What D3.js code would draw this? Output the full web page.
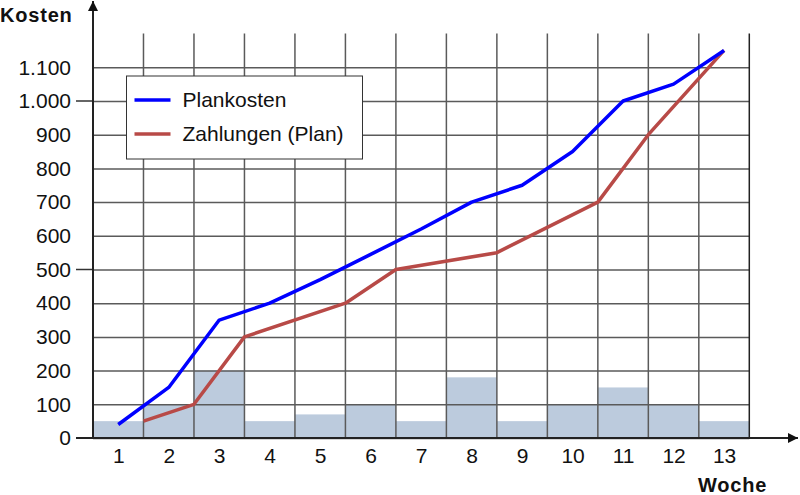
<!DOCTYPE html>
<html>
<head>
<meta charset="utf-8">
<script src="https://cdn.jsdelivr.net/npm/d3@7"></script>
<style>
  body { margin: 0; background: #fff; }
  text { font-family: "Liberation Sans", Arial, sans-serif; }
</style>
</head>
<body>
<script>
// weeks and weekly payments (bars)
var weeks = [1, 2, 3, 4, 5, 6, 7, 8, 9, 10, 11, 12, 13];
var payments = [50, 100, 200, 50, 70, 100, 50, 180, 50, 100, 150, 100, 50];

// Plankosten, one point per week (middle of the column)
var planWeeks = [1, 2, 3, 4, 5, 6, 7, 8, 9, 10, 11, 12, 13];
var planCost = [40, 150, 350, 400, 470, 545, 620, 700, 750, 850, 1000, 1050, 1150];

// Zahlungen (Plan): points sit on the week boundaries, last one in week 13
var payWeeks = [1.5, 2.5, 3.5, 5.5, 6.5, 8.5, 10.5, 11.5, 13];
var payCum = [50, 100, 300, 400, 500, 550, 700, 900, 1150];

var yTicks = [0, 100, 200, 300, 400, 500, 600, 700, 800, 900, 1000, 1100];
var yMajor = [0, 500, 1000];

var width = 800, height = 495;

var svg = d3.select("body").append("svg")
    .attr("width", width)
    .attr("height", height);

var x = d3.scaleLinear().domain([0.5, 13.5]).range([93, 749.3]);
var y = d3.scaleLinear().domain([0, 1200]).range([438, 33.6]);

var de = d3.formatLocale({decimal: ",", thousands: ".", grouping: [3], currency: ["", " €"]});
var fmt = de.format(",d");

// bars first, grid goes on top of them
svg.append("g").selectAll("rect")
    .data(weeks)
  .enter().append("rect")
    .attr("x", function(d) { return x(d - 0.5); })
    .attr("width", function(d) { return x(d + 0.5) - x(d - 0.5); })
    .attr("y", function(d, i) { return y(payments[i]); })
    .attr("height", function(d, i) { return y(0) - y(payments[i]); })
    .attr("fill", "#bccbdd");

// horizontal grid + y labels
var yAxis = svg.append("g")
    .attr("transform", "translate(" + x(0.5) + ",0)")
    .call(d3.axisLeft(y).tickValues(yTicks).tickSize(-(x(13.5) - x(0.5))).tickPadding(22).tickFormat(fmt));
yAxis.select(".domain").remove();
yAxis.selectAll("line").attr("stroke", "#5a5a5a").attr("stroke-width", 1.5);
yAxis.selectAll("text")
    .attr("font-size", "21px")
    .attr("fill", "#111");

// longer ticks at 0, 500, 1000
svg.append("g").selectAll("line")
    .data(yMajor)
  .enter().append("line")
    .attr("x1", 76).attr("x2", x(0.5))
    .attr("y1", function(d) { return y(d); })
    .attr("y2", function(d) { return y(d); })
    .attr("stroke", "#333").attr("stroke-width", 1.5);

// vertical grid on the week boundaries
svg.append("g").selectAll("line")
    .data(weeks)
  .enter().append("line")
    .attr("x1", function(d) { return x(d + 0.5); })
    .attr("x2", function(d) { return x(d + 0.5); })
    .attr("y1", y(0))
    .attr("y2", y(1200))
    .attr("stroke", function(d) { return d == 13 ? "#222" : "#5a5a5a"; })
    .attr("stroke-width", 1.5);

// x labels
var xAxis = svg.append("g")
    .attr("transform", "translate(0," + y(0) + ")")
    .call(d3.axisBottom(x).tickValues(weeks).tickSize(0).tickPadding(10));
xAxis.select(".domain").remove();
xAxis.selectAll("text")
    .attr("font-size", "21px")
    .attr("fill", "#111");

// axes with arrows
var defs = svg.append("defs");
defs.append("marker")
    .attr("id", "arrow")
    .attr("viewBox", "0 0 10 10")
    .attr("refX", 10).attr("refY", 5)
    .attr("markerWidth", 10).attr("markerHeight", 10)
    .attr("markerUnits", "userSpaceOnUse")
    .attr("orient", "auto")
  .append("path")
    .attr("d", "M0,0 L10,5 L0,10 Z")
    .attr("fill", "#111");

svg.append("line")
    .attr("x1", x(0.5)).attr("x2", x(0.5))
    .attr("y1", y(0)).attr("y2", 1)
    .attr("stroke", "#222").attr("stroke-width", 2)
    .attr("marker-end", "url(#arrow)");

svg.append("line")
    .attr("x1", 76).attr("x2", 798)
    .attr("y1", y(0)).attr("y2", y(0))
    .attr("stroke", "#222").attr("stroke-width", 2)
    .attr("marker-end", "url(#arrow)");

// lines
var line = d3.line()
    .x(function(d) { return x(d[0]); })
    .y(function(d) { return y(d[1]); });

svg.append("path")
    .datum(d3.zip(payWeeks, payCum))
    .attr("d", line)
    .attr("fill", "none")
    .attr("stroke", "#b84a47")
    .attr("stroke-width", 3.5)
    .attr("stroke-linejoin", "round");

svg.append("path")
    .datum(d3.zip(planWeeks, planCost))
    .attr("d", line)
    .attr("fill", "none")
    .attr("stroke", "#0000ff")
    .attr("stroke-width", 3.5)
    .attr("stroke-linejoin", "round");

// legend
var legend = svg.append("g").attr("transform", "translate(126.5,76)");
legend.append("rect")
    .attr("width", 236).attr("height", 83)
    .attr("fill", "#fff").attr("stroke", "#333").attr("stroke-width", 1);

var legendItems = [
  {name: "Plankosten", color: "#0000ff"},
  {name: "Zahlungen (Plan)", color: "#b84a47"}
];
var li = legend.selectAll("g.item")
    .data(legendItems)
  .enter().append("g")
    .attr("class", "item")
    .attr("transform", function(d, i) { return "translate(0," + (24 + i * 34) + ")"; });
li.append("line")
    .attr("x1", 8).attr("x2", 44)
    .attr("stroke", function(d) { return d.color; })
    .attr("stroke-width", 3.5);
li.append("text")
    .attr("x", 56).attr("dy", "0.35em")
    .attr("font-size", "21px")
    .attr("fill", "#111")
    .text(function(d) { return d.name; });

// axis titles
svg.append("text")
    .attr("x", 0).attr("y", 22)
    .attr("font-size", "20px").attr("font-weight", "bold")
    .attr("letter-spacing", "0.8px")
    .attr("fill", "#111")
    .text("Kosten");

svg.append("text")
    .attr("x", 698).attr("y", 492)
    .attr("font-size", "20px").attr("font-weight", "bold")
    .attr("letter-spacing", "0.8px")
    .attr("fill", "#111")
    .text("Woche");
</script>
</body>
</html>
